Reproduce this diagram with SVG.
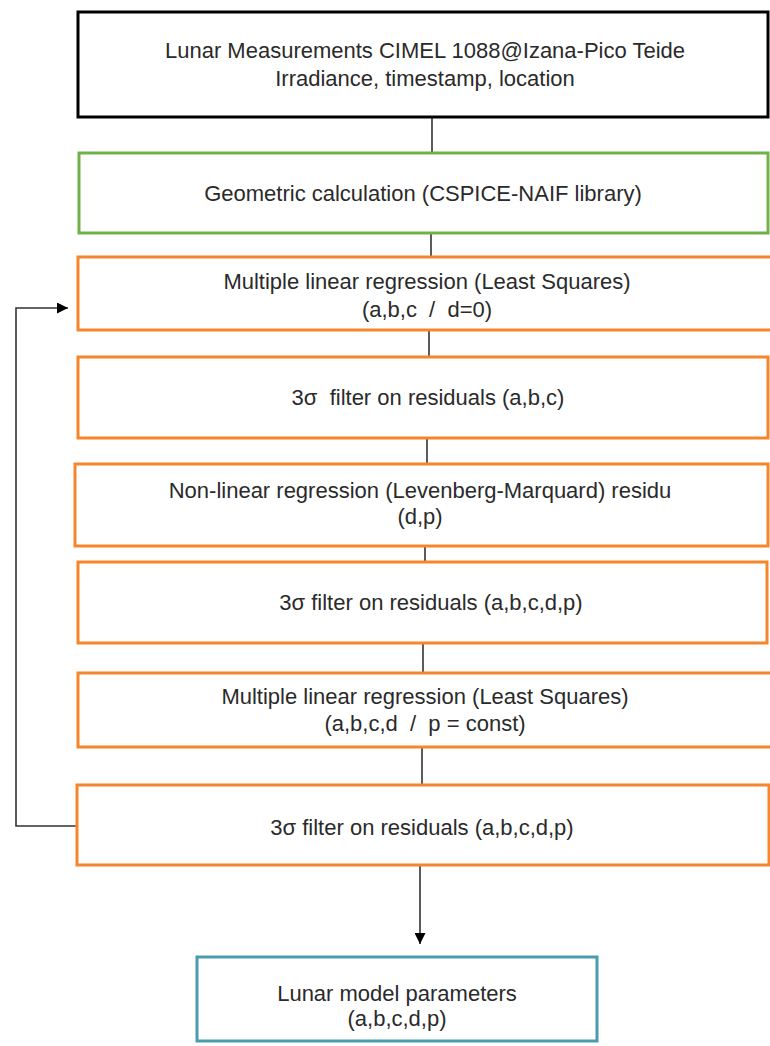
<svg xmlns="http://www.w3.org/2000/svg" width="770" height="1046" viewBox="0 0 770 1046">
<defs>
<marker id="ah" viewBox="0 0 10 10" refX="10" refY="5" markerWidth="11" markerHeight="11" markerUnits="userSpaceOnUse" orient="auto"><path d="M0,0 L10,5 L0,10 z" fill="#000"/></marker>
<style>
.box{fill:#fff;stroke-width:3}
.blk{stroke:#000}
.grn{stroke:#70b14a}
.org{stroke:#f5862b}
.blu{stroke:#4a9bb0}
text{font-family:"Liberation Sans",Arial,sans-serif;font-size:22px;fill:#2a2a2a;text-anchor:middle;white-space:pre}
.ln{stroke:#333;stroke-width:1.6;fill:none}
</style>
</defs>
<rect width="770" height="1046" fill="#fff"/>
<g id="connectors">
<line class="ln" x1="432" y1="117" x2="432" y2="153"/>
<line class="ln" x1="431" y1="233" x2="431" y2="257"/>
<line class="ln" x1="429" y1="331" x2="429" y2="357"/>
<line class="ln" x1="427" y1="438" x2="427" y2="464"/>
<line class="ln" x1="425" y1="546" x2="425" y2="562"/>
<line class="ln" x1="423" y1="643" x2="423" y2="673"/>
<line class="ln" x1="422" y1="747" x2="422" y2="785"/>
<line class="ln" x1="420" y1="866" x2="420" y2="944" marker-end="url(#ah)"/>
<polyline class="ln" points="77,826 16,826 16,308 68,308" marker-end="url(#ah)"/>
</g>
<g id="n1"><rect class="box blk" x="78" y="12" width="690" height="105"/>
<text x="425" y="58">Lunar Measurements CIMEL 1088@Izana-Pico Teide</text>
<text x="425" y="86">Irradiance, timestamp, location</text></g>
<g id="n2"><rect class="box grn" x="79" y="153" width="689" height="80"/>
<text x="423" y="201">Geometric calculation (CSPICE-NAIF library)</text></g>
<g id="n3"><rect class="box org" x="78" y="257" width="700" height="73"/>
<text x="427" y="289">Multiple linear regression (Least Squares)</text>
<text x="427" y="317" xml:space="preserve">(a,b,c  /  d=0)</text></g>
<g id="n4"><rect class="box org" x="78" y="357" width="690" height="81"/>
<text x="428" y="405" xml:space="preserve">3σ  filter on residuals (a,b,c)</text></g>
<g id="n5"><rect class="box org" x="75" y="464" width="693" height="82"/>
<text x="420" y="498">Non-linear regression (Levenberg-Marquard) residu</text>
<text x="420" y="524">(d,p)</text></g>
<g id="n6"><rect class="box org" x="78" y="562" width="689" height="81"/>
<text x="431" y="610">3σ filter on residuals (a,b,c,d,p)</text></g>
<g id="n7"><rect class="box org" x="78" y="673" width="700" height="74"/>
<text x="425" y="704">Multiple linear regression (Least Squares)</text>
<text x="425" y="731" xml:space="preserve">(a,b,c,d  /  p = const)</text></g>
<g id="n8"><rect class="box org" x="77" y="785" width="692" height="80"/>
<text x="422" y="835">3σ filter on residuals (a,b,c,d,p)</text></g>
<g id="n9"><rect class="box blu" x="197" y="957" width="400" height="84"/>
<text x="397" y="1001">Lunar model parameters</text>
<text x="397" y="1026">(a,b,c,d,p)</text></g>
</svg>
